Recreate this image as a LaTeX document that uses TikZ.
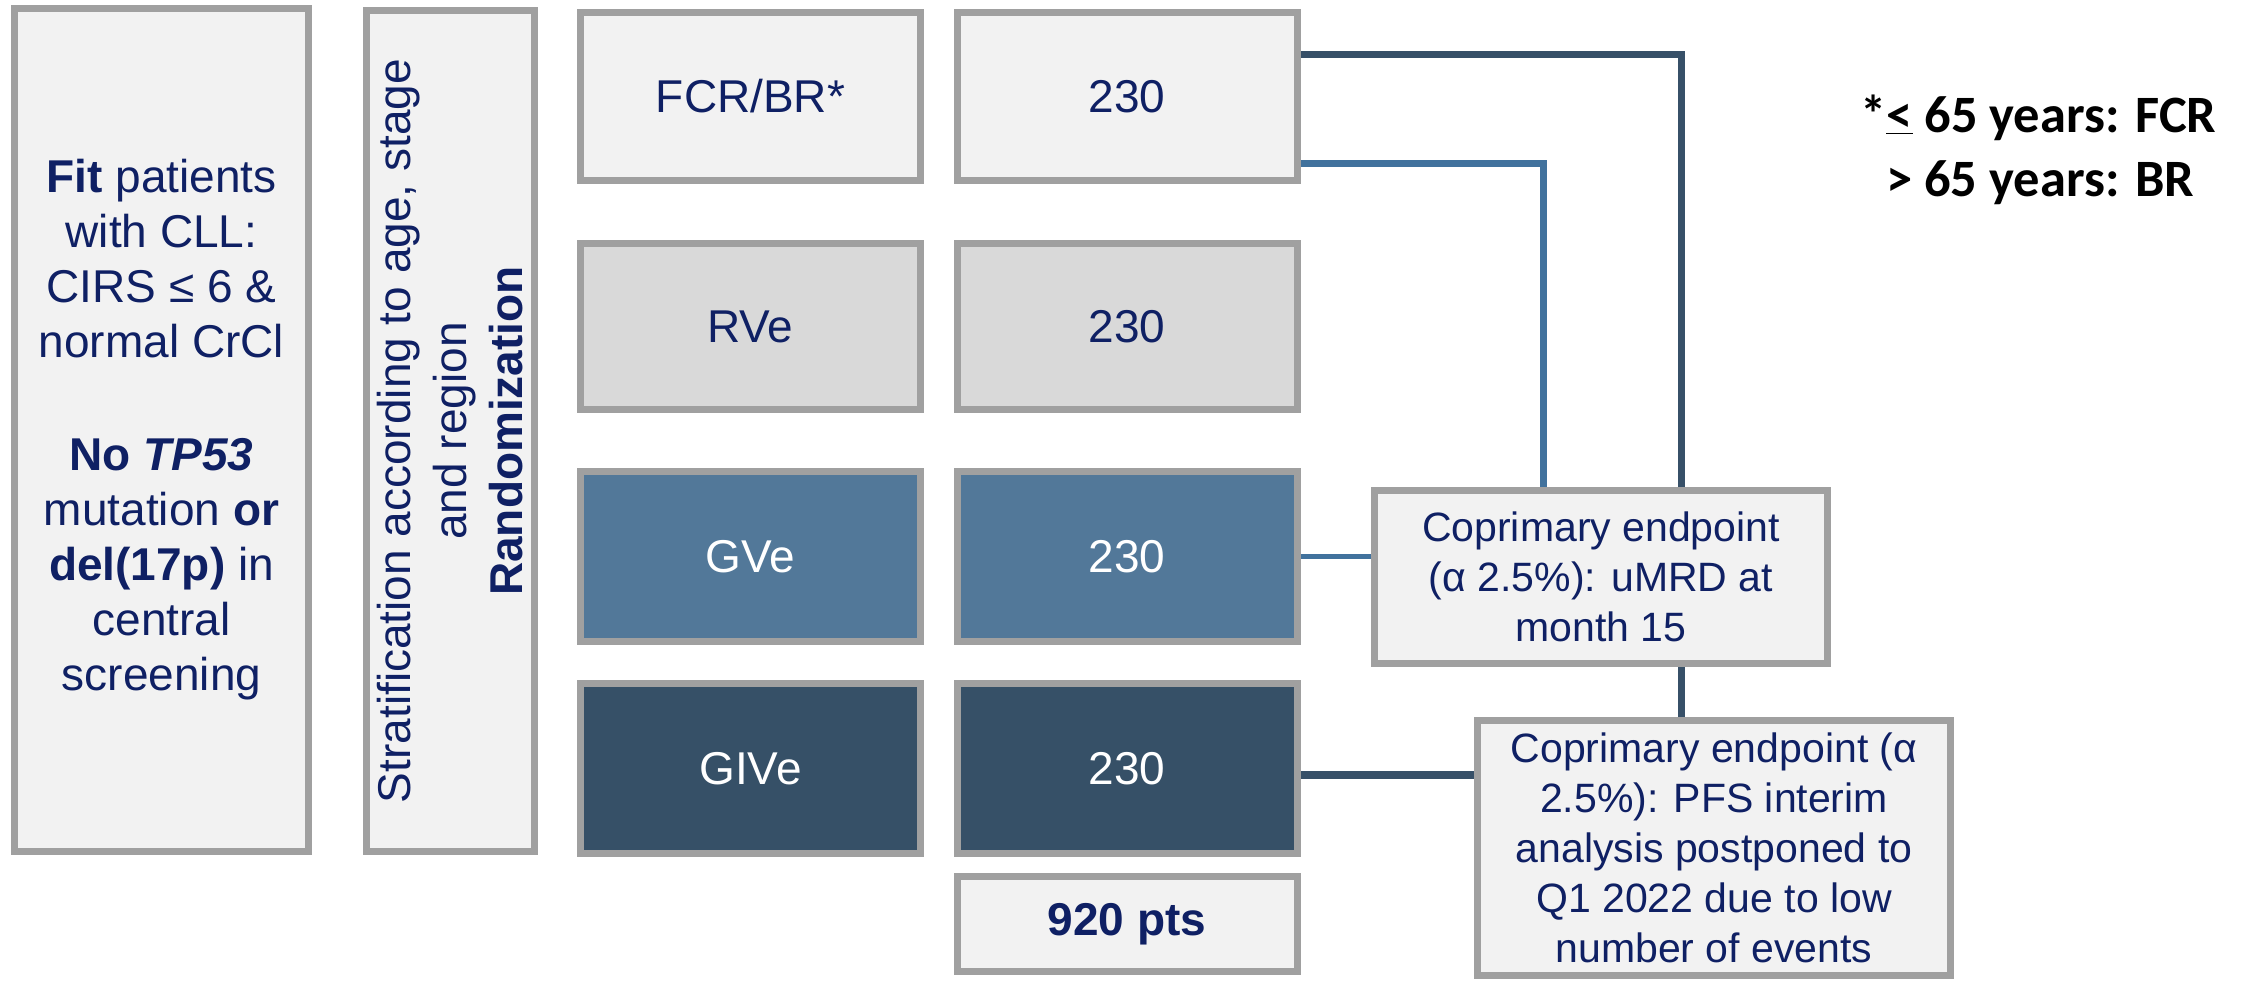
\documentclass[tikz,border=0pt]{standalone}
\usepackage{fontspec}
\setmainfont{Liberation Sans}
\newfontfamily\calib{Carlito}
\usetikzlibrary{backgrounds,calc}
\definecolor{bordergray}{RGB}{160,160,160}
\definecolor{lightfill}{RGB}{242,242,242}
\definecolor{midfill}{RGB}{217,217,217}
\definecolor{gvefill}{RGB}{82,120,153}
\definecolor{givefill}{RGB}{54,80,103}
\definecolor{navy}{RGB}{15,32,100}
\definecolor{darkline}{RGB}{55,80,104}
\definecolor{blueline}{RGB}{65,114,157}
\begin{document}
\begin{tikzpicture}[x=1pt,y=-1pt,
  box/.style={draw=bordergray, line width=7pt, inner sep=0pt, outer sep=0pt,
    align=center, text=navy, font=\fontsize{46}{55}\selectfont},
  armbox/.style={box, minimum width=340},
  epbox/.style={box, fill=lightfill, font=\fontsize{41}{50}\selectfont},
  darkconn/.style={draw=darkline, line width=7pt},
  blueconn/.style={draw=blueline, line width=7pt}]
\useasboundingbox (0,0) rectangle (2241,980);

% left boxes
\node[box, fill=lightfill, minimum width=294, minimum height=843] (fit) at (161.5,430)
  {\textbf{Fit} patients\\with CLL:\\CIRS ≤ 6 \&\\normal CrCl\\[58pt]\textbf{No \textit{TP53}}\\mutation \textbf{or}\\\textbf{del(17p)} in\\central\\screening};
\node[box, fill=lightfill, minimum width=841, minimum height=168, rotate=90,
  font=\fontsize{46}{56}\selectfont] (strat) at (450.5,431)
  {Stratification according to age, stage\\and region\\\textbf{Randomization}};

% arms
\node[armbox, fill=lightfill, minimum height=168] (a1) at (750.5,96.5) {FCR/BR*};
\node[armbox, fill=lightfill, minimum height=168] (n1) at (1127,96.5) {230};
\node[armbox, fill=midfill, minimum height=166] (a2) at (750.5,326.5) {RVe};
\node[armbox, fill=midfill, minimum height=166] (n2) at (1127,326.5) {230};
\node[armbox, fill=gvefill, text=white, minimum height=170] (a3) at (750.5,556.5) {GVe};
\node[armbox, fill=gvefill, text=white, minimum height=170] (n3) at (1127,556.5) {230};
\node[armbox, fill=givefill, text=white, minimum height=170] (a4) at (750.5,768.5) {GIVe};
\node[armbox, fill=givefill, text=white, minimum height=170] (n4) at (1127,768.5) {230};
\node[armbox, fill=lightfill, minimum height=95] (tot) at (1127,924) {\textbf{920 pts}};

% endpoints
\node[epbox, minimum width=453, minimum height=173] (ep1) at (1601,577)
  {Coprimary endpoint\\(α 2.5\%): uMRD at\\month 15};
\node[epbox, minimum width=473, minimum height=255] (ep2) at (1714,848)
  {Coprimary endpoint (α\\2.5\%): PFS interim\\analysis postponed to\\Q1 2022 due to low\\number of events};

% footnote (base anchor = baseline of the last line)
\node[anchor=base west, align=left, inner sep=0pt,
  font=\calib\bfseries\fontsize{52.5}{64}\selectfont] (note) at (1860,196)
  {*\underline{<} 65 years: FCR\\\hphantom{*}> 65 years: BR};

% connectors
\begin{scope}[on background layer]
\fill[white] (0,0) rectangle (2241,980);
\coordinate (d0) at ($(n1.north east)!0.25!(n1.south east)$);
\coordinate (d1) at ($(ep2.north west)!0.432!(ep2.north east)$);
\draw[darkconn] (d0) -| (d1);
\coordinate (b0) at ($(n1.north east)!0.896!(n1.south east)$);
\coordinate (b1) at ($(ep1.north west)!0.372!(ep1.north east)$);
\draw[blueconn] (b0) -| (b1);
\draw[blueconn, line width=5pt] (n3.east) -- (n3.east -| ep1.west);
\coordinate (g0) at ($(n4.north east)!0.538!(n4.south east)$);
\draw[darkconn, line width=8pt] (g0) -- (g0 -| ep2.west);
\end{scope}
\end{tikzpicture}
\end{document}
